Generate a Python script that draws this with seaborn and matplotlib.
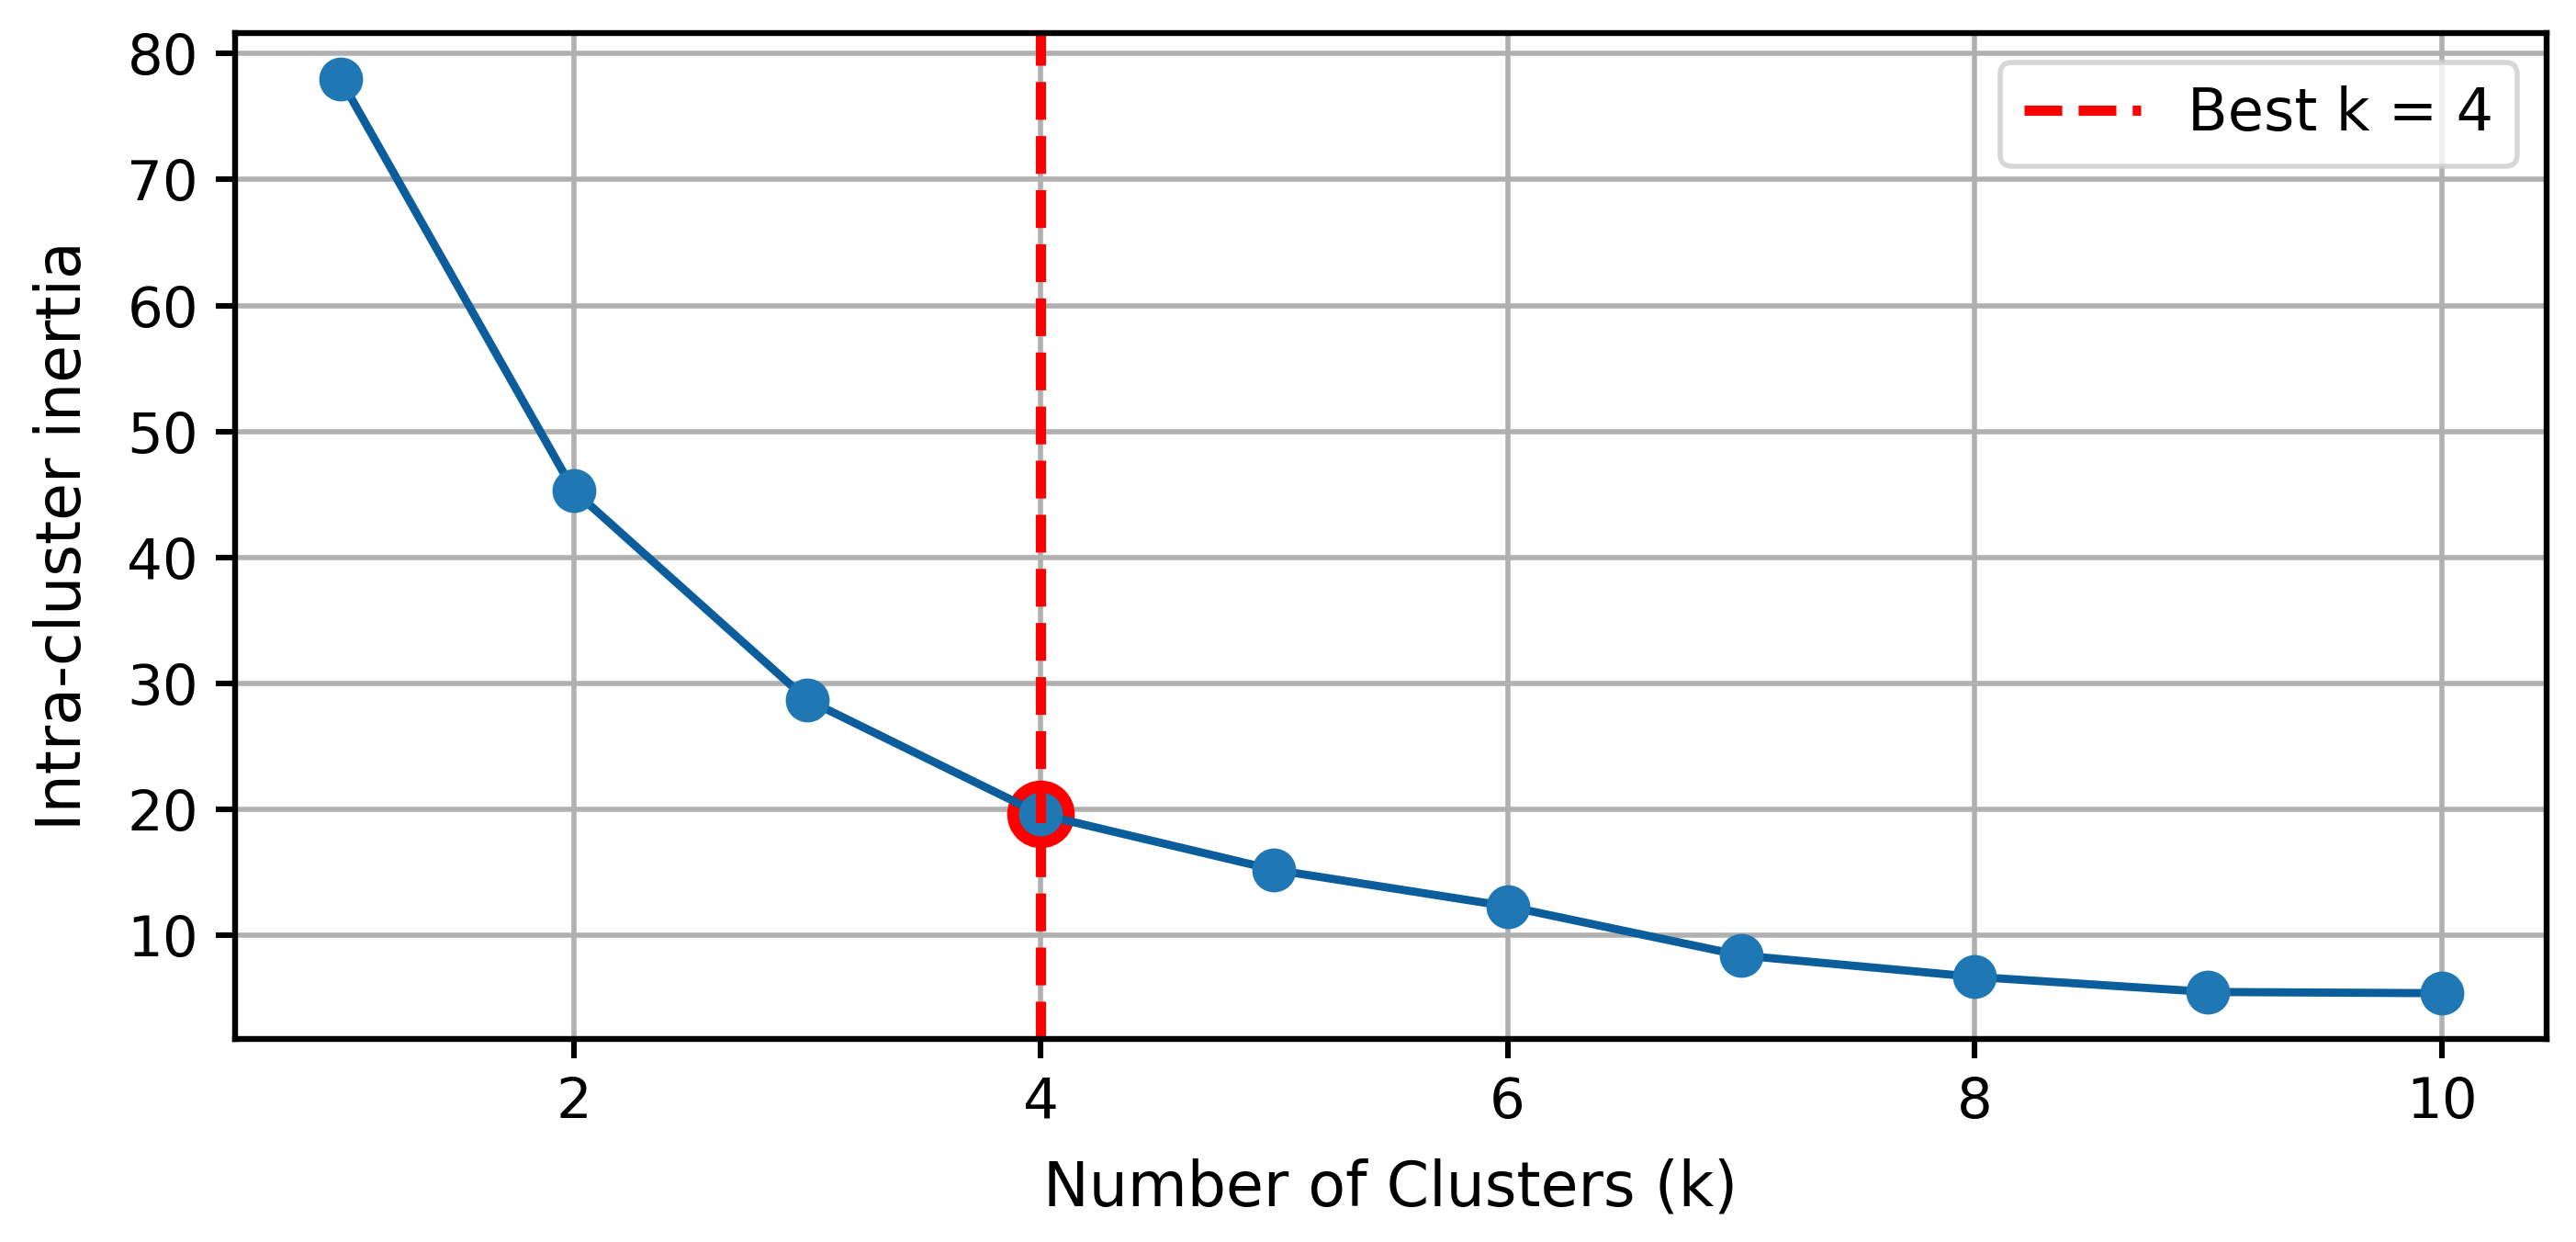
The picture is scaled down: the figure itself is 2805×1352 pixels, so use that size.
import matplotlib
matplotlib.use("Agg")
import matplotlib.pyplot as plt
import seaborn as sns

# values
k_values = [1, 2, 3, 4, 5, 6, 7, 8, 9, 10]
inertia = [78.0, 45.3, 28.7, 19.6, 15.2, 12.3, 8.4, 6.7, 5.5, 5.4]
best_k = 4


def create_elbow_plot(k_values, inertia, best_k):
    """
    Line plot of intra-cluster inertia vs k, with the chosen k marked
    """
    fig, ax = plt.subplots(figsize=(2805 / 400, 1352 / 400), dpi=400)
    fig.subplots_adjust(left=0.0913, right=0.9886, bottom=0.1635, top=0.9734)

    sns.lineplot(
        x=k_values, y=inertia, ax=ax, color="#0b5d9b", linewidth=1.6,
        marker="o", markersize=8, markerfacecolor="#1f77b4",
        markeredgecolor="#1f77b4", markeredgewidth=0.6,
    )
    best_inertia = inertia[k_values.index(best_k)]
    ax.scatter([best_k], [best_inertia], s=150, color="red", zorder=1)
    ax.axvline(best_k, color="red", linestyle="--", linewidth=2,
               label=f"Best k = {best_k}")

    ax.grid(True, color="#b0b0b0", linewidth=1)
    ax.set_axisbelow(True)
    for spine in ax.spines.values():
        spine.set_linewidth(1.15)
    ax.tick_params(labelsize=11, width=1.1, length=3.7)
    ax.set_xlabel("Number of Clusters (k)", fontsize=12, labelpad=5.5)
    ax.set_ylabel("Intra-cluster inertia", fontsize=12, labelpad=6.5)
    ax.legend(loc="upper right", fontsize=11.5)
    fig.savefig("out.png", dpi=400)
    return None


create_elbow_plot(k_values, inertia, best_k)
